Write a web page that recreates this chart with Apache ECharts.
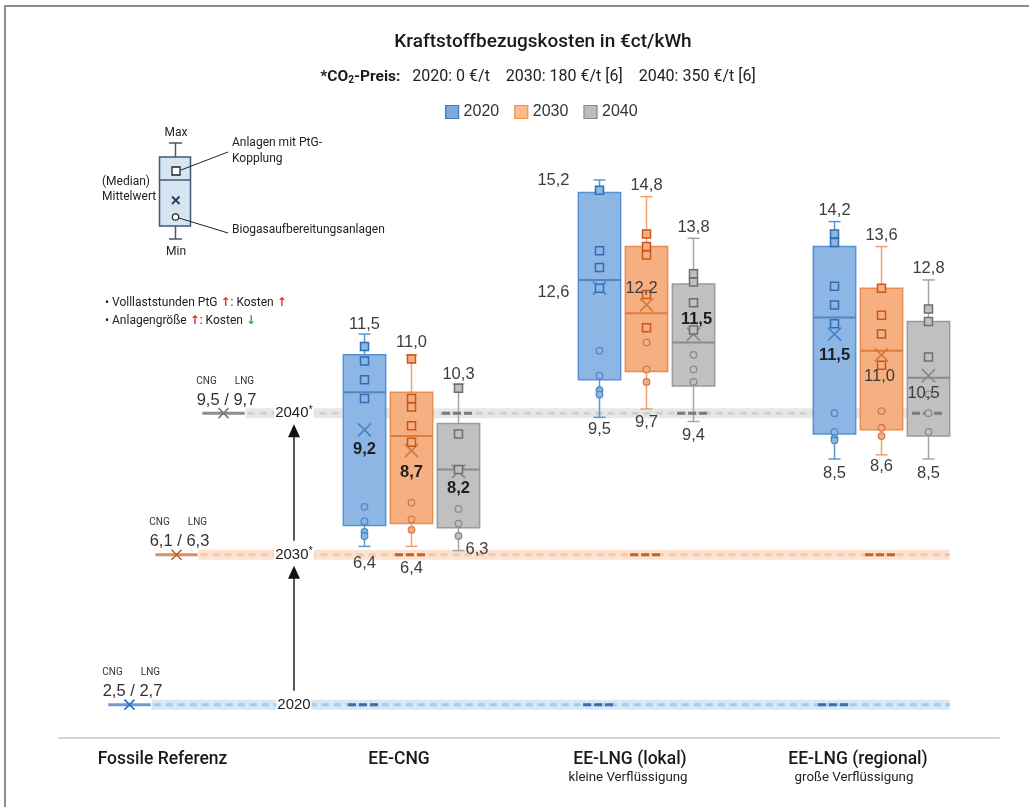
<!DOCTYPE html>
<html><head><meta charset="utf-8">
<script src="https://cdn.jsdelivr.net/npm/echarts@6/dist/echarts.min.js"></script>
<style>html,body{margin:0;padding:0;background:#fff}#c{width:1029px;height:807px}</style>
</head><body><div id="c"></div>
<script>
// ---------------- data ----------------
const categories = ['Fossile Referenz', 'EE-CNG', 'EE-LNG (lokal)', 'EE-LNG (regional)'];
const subCategories = ['', '', 'kleine Verflüssigung', 'große Verflüssigung'];
const years = ['2020', '2030', '2040'];
const co2Price = ['0 €/t', '180 €/t [6]', '350 €/t [6]'];

// fossil reference per year
const fossilCNG = [2.5, 6.1, 9.5];
const fossilLNG = [2.7, 6.3, 9.7];
const fossilLevel = [2.6, 6.2, 9.6];

// [min, q1, median, q3, max] for EE-CNG, EE-LNG (lokal), EE-LNG (regional)
const box2020 = [[6.4, 6.9, 10.1, 11.0, 11.5], [9.5, 10.4, 12.8, 14.9, 15.2], [8.5, 9.1, 11.9, 13.6, 14.2]];
const box2030 = [[6.4, 6.95, 9.05, 10.1, 11.0], [9.7, 10.6, 12.0, 13.6, 14.8], [8.6, 9.2, 11.1, 12.6, 13.6]];
const box2040 = [[6.3, 6.85, 8.25, 9.35, 10.3], [9.4, 10.25, 11.3, 12.7, 13.8], [8.5, 9.05, 10.45, 11.8, 12.8]];
const mean2020 = [9.2, 12.6, 11.5];
const mean2030 = [8.7, 12.2, 11.0];
const mean2040 = [8.2, 11.5, 10.5];
// plants with PtG coupling (squares)
const ptg2020 = [[11.2, 10.85, 10.4, 9.95], [14.95, 13.5, 13.1, 12.6], [13.9, 13.7, 12.65, 12.2, 11.75]];
const ptg2030 = [[10.9, 9.95, 9.75, 9.3, 8.9], [13.9, 13.6, 13.4, 12.45, 11.65], [12.6, 11.95, 11.5, 10.75]];
const ptg2040 = [[10.2, 9.1, 8.25], [12.95, 12.75, 12.25, 11.6], [12.1, 11.8, 10.95]];
// biogas upgrading plants (circles)
const bio2020 = [[7.35, 7.0, 6.75, 6.65], [11.1, 10.5, 10.15, 10.05], [9.6, 9.15, 9.0, 8.95]];
const bio2030 = [[7.45, 7.05, 6.8], [11.3, 10.65, 10.35], [9.65, 9.25, 9.05]];
const bio2040 = [[7.3, 6.95, 6.65], [11.0, 10.65, 10.35], [10.05, 9.6, 9.15]];

const boxes = [box2020, box2030, box2040];
const means = [mean2020, mean2030, mean2040];
const ptgs = [ptg2020, ptg2030, ptg2040];
const bios = [bio2020, bio2030, bio2040];

// ---------------- layout / style ----------------
const GROUP_OFF = 0.2, BOX_HALF = 0.09;
function xPos(cat, yr) { return cat + 0.5 + (yr - 1) * GROUP_OFF; }
const FN = '"Liberation Sans", Arial, sans-serif';
const FU = 'Roboto, "Liberation Sans", sans-serif';
const FA = '"DejaVu Sans", sans-serif';
const pal = [
  {fill:'#8eb6e4', border:'#5592d4', med:'#4d87c7', whisk:'#5b97d6', pt:'#2f6db5', bio:'#4f89c8', mean:'#4a84c4',
   band:'#d6e7f6', bandDash:'#a9cbea', dark:'#3a6ea8', fossil:'#6d9bd6', fossilX:'#2e6fc0', legFill:'#7fa8dc', legBorder:'#3d7cc4'},
  {fill:'#f5af81', border:'#ec8d50', med:'#e07b3a', whisk:'#f0a06d', pt:'#c9561c', bio:'#d4784a', mean:'#d27a40',
   band:'#fce3d1', bandDash:'#f8c6a2', dark:'#c0622a', fossil:'#d4906a', fossilX:'#c0622a', legFill:'#fbbd8e', legBorder:'#f09040'},
  {fill:'#c0c0c0', border:'#9a9a9a', med:'#8a8a8a', whisk:'#a5a5a5', pt:'#6e6e6e', bio:'#8c8c8c', mean:'#8a8a8a',
   band:'#e7e7e7', bandDash:'#cfcfcf', dark:'#7a7a7a', fossil:'#8c8c8c', fossilX:'#7a7a7a', legFill:'#bdbdbd', legBorder:'#888888'}
];
const maxLabelPos = [
  [[0,-10,'center'],[-30,0,'right'],[0,-11,'center']],
  [[0,-12,'center'],[0,-11,'center'],[0,-11,'center']],
  [[0,-10,'center'],[0,-11,'center'],[0,-11,'center']]
];
const minLabelPos = [
  [[0,17,'center'],[0,12,'center'],[0,14,'center']],
  [[0,22,'center'],[0,13,'center'],[0,12,'center']],
  [[7,-1,'left'],[0,14,'center'],[0,14,'center']]
];
const meanLabelPos = [
  [[0,20,'center',true],[-30,4,'right',false],[0,21,'center',true]],
  [[0,22,'center',true],[-5,-16,'center',false],[-2,22,'center',false]],
  [[0,17,'center',true],[3,-15,'center',true],[-5,18,'center',false]]
];
function fmt(v) { return v.toFixed(1).replace('.', ','); }

// ---------------- series ----------------
const series = [];

// reference bands + fossil markers
series.push({
  type: 'custom', name: 'ref', z: 1, silent: true,
  data: fossilLevel.map((v, i) => [i, v, fossilCNG[i], fossilLNG[i]]),
  encode: {x: 0, y: 1},
  renderItem: (params, api) => {
    const yr = api.value(0), lvl = api.value(1);
    const c = pal[yr];
    const xc = xPos(0, yr);
    const p = api.coord([xc, lvl]);
    const xm = p[0], y = p[1];
    const sx0 = api.coord([xc - BOX_HALF, lvl])[0];
    const sx1 = api.coord([xc + BOX_HALF, lvl])[0];
    const bx1 = api.coord([xPos(3, 2) + BOX_HALF, lvl])[0];
    const s = 5;
    return {type: 'group', children: [
      {type: 'rect', shape: {x: sx1 + 1, y: y - 5, width: bx1 - sx1 - 1, height: 10}, style: {fill: c.band}},
      {type: 'line', shape: {x1: sx1 + 3, y1: y, x2: bx1, y2: y}, style: {stroke: c.bandDash, lineWidth: 3, lineDash: [7, 5]}},
      {type: 'line', shape: {x1: sx0, y1: y, x2: sx1, y2: y}, style: {stroke: c.fossil, lineWidth: 3}},
      {type: 'line', shape: {x1: xm - s, y1: y - s, x2: xm + s, y2: y + s}, style: {stroke: c.fossilX, lineWidth: 1.6}},
      {type: 'line', shape: {x1: xm + s, y1: y - s, x2: xm - s, y2: y + s}, style: {stroke: c.fossilX, lineWidth: 1.6}},
      {type: 'text', x: xm + 3, y: y - 13, style: {text: fmt(api.value(2)) + ' / ' + fmt(api.value(3)), fill: '#333', fontSize: 16.5, fontFamily: FN, align: 'center', verticalAlign: 'middle'}},
      {type: 'text', x: xm - 17, y: y - 32, style: {text: 'CNG', fill: '#333', fontSize: 10, fontFamily: FU, align: 'center', verticalAlign: 'middle'}},
      {type: 'text', x: xm + 21, y: y - 32, style: {text: 'LNG', fill: '#333', fontSize: 10, fontFamily: FU, align: 'center', verticalAlign: 'middle'}}
    ]};
  }
});

// boxes
for (let yr = 0; yr < 3; yr++) {
  const c = pal[yr];
  const data = boxes[yr].map((s, i) => [i + 1, ...s, means[yr][i]]);
  series.push({
    type: 'custom', name: years[yr], z: 2, data,
    itemStyle: {color: c.fill, borderColor: c.border},
    encode: {x: 0, y: [1, 2, 3, 4, 5, 6]},
    renderItem: (params, api) => {
      const xc = xPos(api.value(0), yr);
      const P = v => api.coord([xc, v]);
      const xm = P(api.value(3))[0];
      const xl = api.coord([xc - BOX_HALF, 5])[0], xr = api.coord([xc + BOX_HALF, 5])[0];
      const yMin = P(api.value(1))[1], yQ1 = P(api.value(2))[1], yMed = P(api.value(3))[1],
            yQ3 = P(api.value(4))[1], yMax = P(api.value(5))[1], yMean = P(api.value(6))[1];
      const cap = 6, xs = 6.5;
      const ws = {stroke: c.whisk, lineWidth: 1.5};
      return {type: 'group', children: [
        {type: 'line', shape: {x1: xm, y1: yMax, x2: xm, y2: yQ3}, style: ws},
        {type: 'line', shape: {x1: xm, y1: yQ1, x2: xm, y2: yMin}, style: ws},
        {type: 'line', shape: {x1: xm - cap, y1: yMax, x2: xm + cap, y2: yMax}, style: ws},
        {type: 'line', shape: {x1: xm - cap, y1: yMin, x2: xm + cap, y2: yMin}, style: ws},
        {type: 'rect', shape: {x: xl, y: yQ3, width: xr - xl, height: yQ1 - yQ3}, style: {fill: c.fill, stroke: c.border, lineWidth: 1.5}},
        {type: 'line', shape: {x1: xl, y1: yMed, x2: xr, y2: yMed}, style: {stroke: c.med, lineWidth: 2}},
        {type: 'line', shape: {x1: xm - xs, y1: yMean - xs, x2: xm + xs, y2: yMean + xs}, style: {stroke: c.mean, lineWidth: 1.8}},
        {type: 'line', shape: {x1: xm + xs, y1: yMean - xs, x2: xm - xs, y2: yMean + xs}, style: {stroke: c.mean, lineWidth: 1.8}}
      ]};
    }
  });
}

// dark dashes of the fossil reference under each year's boxes
series.push({
  type: 'custom', name: 'refmark', z: 3, silent: true,
  data: fossilLevel.map((v, i) => [i, v]),
  encode: {x: 0, y: 1},
  renderItem: (params, api) => {
    const yr = api.value(0), lvl = api.value(1);
    const ch = [];
    for (let cat = 1; cat <= 3; cat++) {
      const xc = xPos(cat, yr);
      const a = api.coord([xc - 0.07, lvl]), b = api.coord([xc + 0.07, lvl]);
      ch.push({type: 'line', shape: {x1: a[0], y1: a[1], x2: b[0], y2: b[1]}, style: {stroke: pal[yr].dark, lineWidth: 3, lineDash: [8, 3]}});
    }
    return {type: 'group', children: ch};
  }
});

// single plants
for (let yr = 0; yr < 3; yr++) {
  const c = pal[yr];
  const sq = [], ci = [];
  ptgs[yr].forEach((arr, i) => arr.forEach(v => sq.push([xPos(i + 1, yr), v])));
  bios[yr].forEach((arr, i) => arr.forEach(v => ci.push([xPos(i + 1, yr), v])));
  series.push({type: 'scatter', name: years[yr], z: 4, symbol: 'rect', symbolSize: 8, data: sq,
    itemStyle: {color: c.fill, borderColor: c.pt, borderWidth: 1.5, opacity: 1}, silent: true});
  series.push({type: 'scatter', name: years[yr], z: 4, symbol: 'circle', symbolSize: 6.5, data: ci,
    itemStyle: {color: c.fill, borderColor: c.bio, borderWidth: 1.3, opacity: 1}, silent: true});
}

// value labels
for (let yr = 0; yr < 3; yr++) {
  const data = boxes[yr].map((s, i) => [i + 1, s[0], s[4], means[yr][i]]);
  series.push({
    type: 'custom', name: years[yr], z: 6, silent: true, data,
    encode: {x: 0, y: [1, 2, 3]},
    renderItem: (params, api) => {
      const i = params.dataIndex;
      const xc = xPos(api.value(0), yr);
      const pMin = api.coord([xc, api.value(1)]), pMax = api.coord([xc, api.value(2)]), pMean = api.coord([xc, api.value(3)]);
      const mx = maxLabelPos[yr][i], mn = minLabelPos[yr][i], me = meanLabelPos[yr][i];
      const t = (x, y, text, align, bold) => ({type: 'text', x, y, style: {text, fill: bold ? '#1e1e1e' : '#3c3c3c',
        fontSize: 16.5, fontWeight: bold ? 'bold' : 'normal', fontFamily: FN, align, verticalAlign: 'middle'}});
      return {type: 'group', children: [
        t(pMax[0] + mx[0], pMax[1] + mx[1], fmt(api.value(2)), mx[2], false),
        t(pMin[0] + mn[0], pMin[1] + mn[1], fmt(api.value(1)), mn[2], false),
        t(pMean[0] + me[0], pMean[1] + me[1], fmt(api.value(3)), me[2], me[3])
      ]};
    }
  });
}

// year labels on the reference lines + arrows
series.push({
  type: 'custom', name: 'years', z: 7, silent: true,
  data: fossilLevel.map((v, i) => [i, v]),
  encode: {x: 0, y: 1},
  renderItem: (params, api) => {
    const yr = api.value(0);
    const p = api.coord([1.0, api.value(1)]);
    const ch = [{type: 'text', x: p[0], y: p[1], style: {
      text: '{y|' + years[yr] + '}' + (yr > 0 ? '{s|*}' : ''), align: 'center', verticalAlign: 'middle',
      backgroundColor: '#fff', padding: [1, 1],
      rich: {y: {fontSize: 15, fontFamily: FN, fill: '#222', lineHeight: 18}, s: {fontSize: 11, fontFamily: FN, fill: '#222', lineHeight: 18, verticalAlign: 'top'}}
    }}];
    if (yr < 2) {
      const top = api.coord([1.0, fossilLevel[yr + 1]])[1] + 11;
      const start = p[1] - 14;
      ch.push({type: 'line', shape: {x1: p[0], y1: start, x2: p[0], y2: top + 10}, style: {stroke: '#222', lineWidth: 1.5}});
      ch.push({type: 'polygon', shape: {points: [[p[0], top], [p[0] - 6, top + 13], [p[0] + 6, top + 13]]}, style: {fill: '#111'}});
    }
    return {type: 'group', children: ch};
  }
});

// ---------------- graphics (title, explanation) ----------------
const SK = '#3d5a78';
const subtitle = '{b|*CO}{bs|2}{b|-Preis:}{n|   ' + years.map((y, i) => y + ': ' + co2Price[i]).join('    ') + '}';
const graphic = [
  {type: 'rect', shape: {x: 5, y: 6, width: 1100, height: 900}, style: {fill: 'none', stroke: '#5c6b78', lineWidth: 1.5}},
  {type: 'text', x: 543, y: 42, style: {text: 'Kraftstoffbezugskosten in €ct/kWh', fontSize: 19, fontWeight: 500, fontFamily: FU, fill: '#1a1a1a', align: 'center', verticalAlign: 'middle'}},
  {type: 'text', x: 538, y: 77, style: {text: subtitle, align: 'center', verticalAlign: 'middle', rich: {
    b: {fontSize: 15.5, fontWeight: 'bold', fontFamily: FU, fill: '#1a1a1a'},
    bs: {fontSize: 10, fontWeight: 'bold', fontFamily: FU, fill: '#1a1a1a', verticalAlign: 'bottom', lineHeight: 14},
    n: {fontSize: 16, fontFamily: FU, fill: '#222'}}}},
  // explanation box
  {type: 'line', shape: {x1: 175.5, y1: 143, x2: 175.5, y2: 157}, style: {stroke: SK, lineWidth: 1.5}},
  {type: 'line', shape: {x1: 169, y1: 143, x2: 182, y2: 143}, style: {stroke: SK, lineWidth: 1.5}},
  {type: 'line', shape: {x1: 175.5, y1: 226, x2: 175.5, y2: 239}, style: {stroke: SK, lineWidth: 1.5}},
  {type: 'line', shape: {x1: 169, y1: 239, x2: 182, y2: 239}, style: {stroke: SK, lineWidth: 1.5}},
  {type: 'rect', shape: {x: 159.5, y: 157, width: 31, height: 69}, style: {fill: '#d7e5f3', stroke: SK, lineWidth: 1.5}},
  {type: 'line', shape: {x1: 159.5, y1: 180, x2: 190.5, y2: 180}, style: {stroke: SK, lineWidth: 1.5}},
  {type: 'rect', shape: {x: 172, y: 167, width: 8, height: 8}, style: {fill: '#fff', stroke: '#222', lineWidth: 1.3}},
  {type: 'line', shape: {x1: 172, y1: 196.5, x2: 179.5, y2: 204}, style: {stroke: '#2a3d52', lineWidth: 1.8}},
  {type: 'line', shape: {x1: 179.5, y1: 196.5, x2: 172, y2: 204}, style: {stroke: '#2a3d52', lineWidth: 1.8}},
  {type: 'circle', shape: {cx: 175.5, cy: 217, r: 3.2}, style: {fill: '#fff', stroke: '#222', lineWidth: 1.2}},
  {type: 'line', shape: {x1: 181, y1: 170, x2: 228, y2: 152}, style: {stroke: '#222', lineWidth: 1}},
  {type: 'line', shape: {x1: 179, y1: 218, x2: 228, y2: 233}, style: {stroke: '#222', lineWidth: 1}},
  {type: 'text', x: 176, y: 133, style: {text: 'Max', fontSize: 12, fontFamily: FU, fill: '#222', align: 'center', verticalAlign: 'middle'}},
  {type: 'text', x: 176, y: 252, style: {text: 'Min', fontSize: 12, fontFamily: FU, fill: '#222', align: 'center', verticalAlign: 'middle'}},
  {type: 'text', x: 232, y: 143, style: {text: 'Anlagen mit PtG-', fontSize: 12, fontFamily: FU, fill: '#222', align: 'left', verticalAlign: 'middle'}},
  {type: 'text', x: 232, y: 159, style: {text: 'Kopplung', fontSize: 12, fontFamily: FU, fill: '#222', align: 'left', verticalAlign: 'middle'}},
  {type: 'text', x: 232, y: 230, style: {text: 'Biogasaufbereitungsanlagen', fontSize: 12, fontFamily: FU, fill: '#222', align: 'left', verticalAlign: 'middle'}},
  {type: 'text', x: 102, y: 182, style: {text: '(Median)', fontSize: 12, fontFamily: FU, fill: '#222', align: 'left', verticalAlign: 'middle'}},
  {type: 'text', x: 102, y: 197, style: {text: 'Mittelwert', fontSize: 12, fontFamily: FU, fill: '#222', align: 'left', verticalAlign: 'middle'}},
  {type: 'text', x: 105, y: 303, style: {text: '{t|• Volllaststunden PtG }{r|↑}{t|: Kosten }{r|↑}', align: 'left', verticalAlign: 'middle',
    rich: {t: {fontSize: 12, fontFamily: FU, fill: '#222'}, r: {fontSize: 12, fontWeight: 'bold', fontFamily: FA, fill: '#e8302a'}}}},
  {type: 'text', x: 105, y: 321, style: {text: '{t|• Anlagengröße }{r|↑}{t|: Kosten }{g|↓}', align: 'left', verticalAlign: 'middle',
    rich: {t: {fontSize: 12, fontFamily: FU, fill: '#222'}, r: {fontSize: 12, fontWeight: 'bold', fontFamily: FA, fill: '#e8302a'},
           g: {fontSize: 12, fontWeight: 'bold', fontFamily: FA, fill: '#3ea845'}}}}
];

const labelShift = [28, 25, 33, 47];
const subShift = [0, 0, 37, 55];
const rich = {};
categories.forEach((c, i) => {
  rich['m' + i] = {fontSize: 17.5, fontWeight: 500, fontFamily: FU, color: '#1a1a1a', lineHeight: 20, padding: [0, labelShift[i], 0, 0]};
  rich['s' + i] = {fontSize: 13.3, fontFamily: FU, color: '#222', lineHeight: 16, padding: [0, subShift[i], 0, 0]};
});

const option = {
  animation: false,
  backgroundColor: '#fff',
  grid: {left: 59, right: 30, top: 105, bottom: 69, containLabel: false, outerBoundsMode: 'none'},
  legend: {left: 440, top: 99, itemWidth: 13, itemHeight: 13, itemGap: 15, icon: 'rect', selectedMode: false,
    textStyle: {fontSize: 16, color: '#333', fontFamily: FN},
    data: years.map((y, i) => ({name: y, itemStyle: {color: pal[i].legFill, borderColor: pal[i].legBorder, borderWidth: 1.2}}))},
  xAxis: [
    {type: 'value', min: 0, max: 4, show: false},
    {type: 'category', data: categories, position: 'bottom', boundaryGap: true,
     axisLine: {show: true, lineStyle: {color: '#d4d4d4', width: 2}}, axisTick: {show: false}, splitLine: {show: false},
     axisLabel: {margin: 12, interval: 0, formatter: (v, i) => '{m' + i + '|' + v + '}' + (subCategories[i] ? '\n{s' + i + '|' + subCategories[i] + '}' : ''), rich}}
  ],
  yAxis: {type: 'value', min: 1.8, max: 17, show: false},
  graphic,
  series
};
const chart = echarts.init(document.getElementById('c'), null, {renderer: 'canvas'});
chart.setOption(option);
</script></body></html>
